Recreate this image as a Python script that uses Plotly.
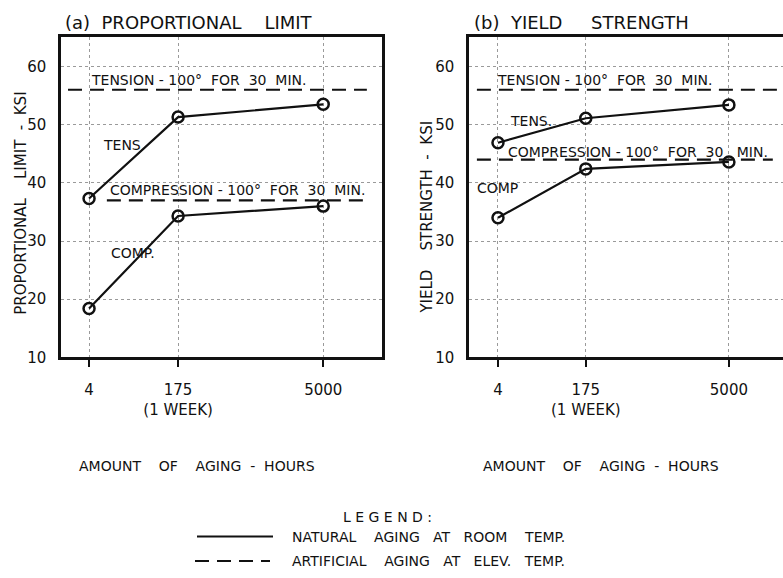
import plotly.graph_objects as go

# ---- data ----
age_labels = ["4", "175<br>(1 WEEK)", "5000"]
age_pos = [0.0, 1.0, 2.63]          # non-uniform horizontal scale of the original chart

prop_tens = [37.3, 51.3, 53.5]
prop_comp = [18.4, 34.3, 36.0]
prop_art_tens = 56.0
prop_art_comp = 37.0

yield_tens = [46.9, 51.1, 53.4]
yield_comp = [34.0, 42.4, 43.6]
yield_art_tens = 56.0
yield_art_comp = 44.0

y_ticks = [10, 20, 30, 40, 50, 60]

W, H = 783, 578
FONT = "DejaVu Sans"
BLACK = "#111111"


def px(x):
    return x / W


def py(y):
    return 1 - y / H


fig = go.Figure()

line_style = dict(color=BLACK, width=2.2)
marker_style = dict(symbol="circle-open", size=11, color=BLACK, line=dict(width=2.5, color=BLACK))
dash_style = dict(color=BLACK, width=2.2, dash="14px,8px")

# left panel
fig.add_trace(go.Scatter(x=age_pos, y=prop_tens, mode="lines+markers", line=line_style,
                         marker=marker_style, xaxis="x", yaxis="y", showlegend=False))
fig.add_trace(go.Scatter(x=age_pos, y=prop_comp, mode="lines+markers", line=line_style,
                         marker=marker_style, xaxis="x", yaxis="y", showlegend=False))
fig.add_trace(go.Scatter(x=[-0.236, 3.12], y=[prop_art_tens] * 2, mode="lines", line=dash_style,
                         xaxis="x", yaxis="y", showlegend=False))
fig.add_trace(go.Scatter(x=[0.20, 3.12], y=[prop_art_comp] * 2, mode="lines", line=dash_style,
                         xaxis="x", yaxis="y", showlegend=False))

# right panel
fig.add_trace(go.Scatter(x=age_pos, y=yield_tens, mode="lines+markers", line=line_style,
                         marker=marker_style, xaxis="x2", yaxis="y2", showlegend=False))
fig.add_trace(go.Scatter(x=age_pos, y=yield_comp, mode="lines+markers", line=line_style,
                         marker=marker_style, xaxis="x2", yaxis="y2", showlegend=False))
fig.add_trace(go.Scatter(x=[-0.24, 3.3], y=[yield_art_tens] * 2, mode="lines", line=dash_style,
                         xaxis="x2", yaxis="y2", showlegend=False))
fig.add_trace(go.Scatter(x=[-0.24, 3.13], y=[yield_art_comp] * 2, mode="lines", line=dash_style,
                         xaxis="x2", yaxis="y2", showlegend=False))

tick_font = dict(family=FONT, size=15, color=BLACK)
grid = dict(showgrid=True, gridcolor="#9a9a9a", gridwidth=1, griddash="dot")

xcommon = dict(tickmode="array", tickvals=age_pos, ticktext=age_labels, tickfont=tick_font,
               ticks="outside", ticklen=7, tickwidth=1.5, tickcolor=BLACK,
               showline=True, linecolor=BLACK, linewidth=2.5, mirror=True,
               zeroline=False, ticklabelstandoff=10, **grid)
ycommon = dict(range=[10, 65], tickmode="array", tickvals=y_ticks, tickfont=tick_font,
               ticks="", showline=True, linecolor=BLACK, linewidth=2.5,
               zeroline=False, ticklabelstandoff=9, **grid)

fig.update_layout(
    width=W, height=H,
    margin=dict(l=0, r=0, t=0, b=0),
    paper_bgcolor="white", plot_bgcolor="white",
    font=dict(family=FONT, color=BLACK),
    xaxis=dict(domain=[px(61), px(382)], range=[-0.315, 3.29], anchor="y", **xcommon),
    yaxis=dict(domain=[py(363), py(38)], anchor="x", mirror=True, **ycommon),
    xaxis2=dict(domain=[px(469), 1.0], range=[-0.33, 3.246], anchor="y2", **xcommon),
    yaxis2=dict(domain=[py(363), py(38)], anchor="x2", mirror=False, **ycommon),
)

ann = []


def text(x, y, s, size=14, xref="paper", yref="paper", xanchor="center", angle=0):
    ann.append(dict(x=x, y=y, text=s, xref=xref, yref=yref, showarrow=False,
                    xanchor=xanchor, yanchor="middle", textangle=angle,
                    font=dict(family=FONT, size=size, color=BLACK)))


# titles
text(px(63), py(23), "(a)  PROPORTIONAL    LIMIT", size=18, xanchor="left")
text(px(472), py(23), "(b)  YIELD     STRENGTH", size=18, xanchor="left")

# y-axis titles
text(px(21), py(207), "PROPORTIONAL    LIMIT  -  KSI", size=15, angle=-90)
text(px(427), py(221), "YIELD    STRENGTH  -  KSI", size=15, angle=-90)

# x-axis titles
text(px(197), py(473), "AMOUNT    OF    AGING  -  HOURS", size=14)
text(px(601), py(473), "AMOUNT    OF    AGING  -  HOURS", size=14)

# in-plot labels, left
text(0.365, 46.5, "TENS", size=14, xref="x", yref="y")
text(0.49, 27.9, "COMP.", size=14, xref="x", yref="y")
text(1.23, 57.6, "TENSION - 100°  FOR  30  MIN.", size=14, xref="x", yref="y")
text(1.67, 38.7, "COMPRESSION - 100°  FOR  30  MIN.", size=14, xref="x", yref="y")

# in-plot labels, right
text(0.38, 50.7, "TENS.", size=14, xref="x2", yref="y2")
text(0.0, 39.1, "COMP", size=14, xref="x2", yref="y2")
text(1.22, 57.6, "TENSION - 100°  FOR  30  MIN.", size=14, xref="x2", yref="y2")
text(1.59, 45.3, "COMPRESSION - 100°  FOR  30   MIN.", size=14, xref="x2", yref="y2")

# legend
text(px(387), py(525), "L E G E N D :", size=14)
text(px(290), py(545), "NATURAL    AGING   AT   ROOM    TEMP.", size=14, xanchor="left")
text(px(290), py(570), "ARTIFICIAL    AGING   AT   ELEV.   TEMP.", size=14, xanchor="left")

fig.update_layout(annotations=ann)

fig.add_shape(type="line", xref="paper", yref="paper", x0=px(197), x1=px(273), y0=py(545), y1=py(545),
              line=dict(color=BLACK, width=2))
fig.add_shape(type="line", xref="paper", yref="paper", x0=px(195), x1=px(270), y0=py(570), y1=py(570),
              line=dict(color=BLACK, width=2, dash="14px,8px"))

fig.write_html("out.html")
